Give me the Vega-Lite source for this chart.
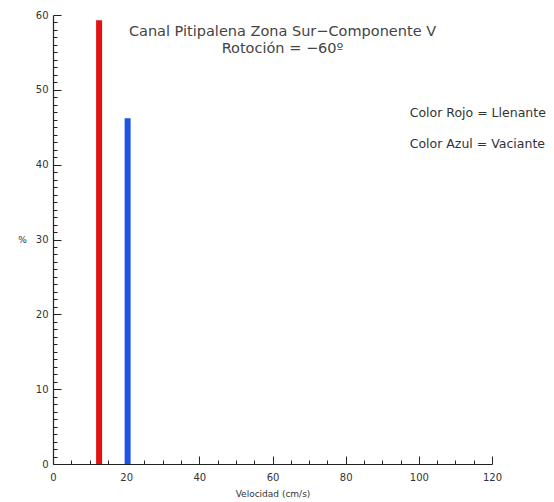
{
  "$schema": "https://vega.github.io/schema/vega-lite/v6.json",
  "width": 439,
  "height": 449,
  "autosize": {"type": "none"},
  "padding": {"left": 53, "top": 15, "right": 62, "bottom": 38},
  "background": "white",
  "config": {
    "view": {"stroke": null},
    "font": "DejaVu Sans",
    "axis": {"grid": false, "domainColor": "#222", "tickColor": "#222", "labelColor": "#333", "titleColor": "#333", "labelFont": "DejaVu Sans", "titleFont": "DejaVu Sans", "labelFontSize": 10, "titleFontSize": 9, "titleFontWeight": "normal", "domainWidth": 1.2, "tickWidth": 1, "labelOverlap": false}
  },
  "title": {
    "text": ["Canal Pitipalena Zona Sur−Componente V", "Rotoción = −60º"],
    "anchor": "middle",
    "orient": "top",
    "baseline": "bottom",
    "offset": -60,
    "dx": 10,
    "fontSize": 14.5,
    "fontWeight": "normal",
    "color": "#444",
    "lineHeight": 17
  },
  "datasets": {
    "bars": [
      {"velocidad": 12.6, "porcentaje": 59.3, "tipo": "Llenante"},
      {"velocidad": 20.4, "porcentaje": 46.2, "tipo": "Vaciante"}
    ],
    "notes": [
      {"x": 97.5, "y": 46.9, "label": "Color Rojo = Llenante"},
      {"x": 97.5, "y": 42.7, "label": "Color Azul = Vaciante"}
    ]
  },
  "resolve": {"axis": {"x": "independent", "y": "independent"}},
  "layer": [
    {
      "data": {"name": "bars"},
      "mark": {"type": "rule", "strokeWidth": 6},
      "encoding": {
        "x": {"field": "velocidad", "type": "quantitative",
          "scale": {"domain": [0, 120], "nice": false, "zero": false},
          "axis": {"title": "Velocidad (cm/s)", "orient": "bottom", "values": [0,5,10,15,20,25,30,35,40,45,50,55,60,65,70,75,80,85,90,95,100,105,110,115,120],
            "labelExpr": "datum.value % 20 === 0 ? datum.label : ''",
            "tickSize": {"condition": {"test": "datum.value % 20 === 0", "value": -8}, "value": -4},
            "labelPadding": 16, "titlePadding": 3, "labelFlush": false}},
        "y": {"field": "porcentaje", "type": "quantitative",
          "scale": {"domain": [0, 60], "nice": false},
          "axis": {"title": "%", "orient": "left", "titleAngle": 0, "titleAlign": "center", "titleBaseline": "middle", "titleX": -31, "titleY": 224,
            "values": [0,1,2,3,4,5,6,7,8,9,10,11,12,13,14,15,16,17,18,19,20,21,22,23,24,25,26,27,28,29,30,31,32,33,34,35,36,37,38,39,40,41,42,43,44,45,46,47,48,49,50,51,52,53,54,55,56,57,58,59,60],
            "labelExpr": "datum.value % 10 === 0 ? datum.label : ''",
            "tickSize": {"condition": {"test": "datum.value % 10 === 0", "value": -8}, "value": -4},
            "labelPadding": 13, "labelFlush": false}},
        "y2": {"datum": 0},
        "color": {"field": "tipo", "type": "nominal", "scale": {"domain": ["Llenante", "Vaciante"], "range": ["#e31313", "#1f55e6"]}, "legend": null}
      }
    },
    {
      "data": {"name": "notes"},
      "mark": {"type": "text", "align": "left", "baseline": "middle", "fontSize": 12.5, "color": "#333", "clip": false},
      "encoding": {
        "x": {"field": "x", "type": "quantitative", "axis": null},
        "y": {"field": "y", "type": "quantitative", "axis": null},
        "text": {"field": "label"}
      }
    }
  ]
}
